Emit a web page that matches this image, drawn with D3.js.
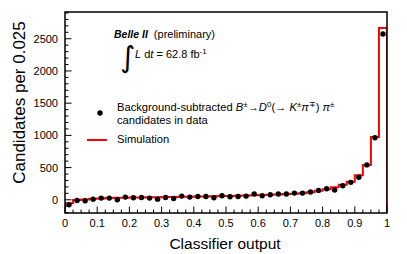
<!DOCTYPE html>
<html>
<head>
<meta charset="utf-8">
<script src="https://cdn.jsdelivr.net/npm/d3@7"></script>
<style>
  body { margin: 0; background: #fff; }
  text { font-family: "Liberation Sans", Arial, sans-serif; fill: #000; }
</style>
</head>
<body>
<div id="chart"></div>
<script>
// bin width 0.025, 40 bins from 0 to 1
var binWidth = 0.025;
var dataCounts = [-78, -10, -16, 10, 26, 26, 0, 42, 31, 36,
                  26, 10, 36, 21, 57, 42, 52, 52, 31, 62,
                  47, 52, 57, 89, 62, 78, 89, 89, 104, 104,
                  120, 146, 172, 151, 219, 271, 349, 542, 964, 2573];
var simCounts = [-55, -5, 5, 15, 22, 27, 30, 33, 35, 37,
                 39, 41, 43, 45, 47, 49, 51, 53, 55, 57,
                 60, 63, 66, 70, 74, 78, 83, 88, 95, 103,
                 118, 140, 165, 195, 232, 282, 380, 540, 975, 2667];
var xTicks = [0, 0.1, 0.2, 0.3, 0.4, 0.5, 0.6, 0.7, 0.8, 0.9, 1];
var yTicks = [0, 500, 1000, 1500, 2000, 2500];

var W = 407, H = 254;
var mLeft = 65, mRight = 387, mTop = 12, mBottom = 213;
var yMin = -205, yMax = 2915;

var svg = d3.select('#chart').append('svg')
    .attr('width', W)
    .attr('height', H);

var x = d3.scaleLinear().domain([0, 1]).range([mLeft, mRight]);
var y = d3.scaleLinear().domain([yMin, yMax]).range([mBottom, mTop]);

svg.append('clipPath').attr('id', 'clip')
  .append('rect')
    .attr('x', mLeft).attr('y', mTop)
    .attr('width', mRight - mLeft).attr('height', mBottom - mTop);

// simulation histogram
var pts = [[0, yMin]];
simCounts.forEach(function(v, i) { pts.push([i * binWidth, v]); });
pts.push([1, simCounts[simCounts.length - 1]]);
pts.push([1, yMin]);

var step = d3.line()
    .x(function(d) { return x(d[0]); })
    .y(function(d) { return y(d[1]); })
    .curve(d3.curveStepAfter);

svg.append('path')
    .attr('clip-path', 'url(#clip)')
    .attr('d', step(pts))
    .attr('fill', 'none')
    .attr('stroke', '#ff0000')
    .attr('stroke-width', 2);

// data points
svg.append('g').selectAll('circle')
    .data(dataCounts)
  .enter().append('circle')
    .attr('cx', function(d, i) { return x((i + 0.5) * binWidth); })
    .attr('cy', function(d) { return y(d); })
    .attr('r', 2.7)
    .attr('fill', '#000');

// ticks inside the frame
var gx = svg.append('g').attr('transform', 'translate(0,' + mBottom + ')');
gx.selectAll('line')
    .data(d3.range(0, 41))
  .enter().append('line')
    .attr('x1', function(d) { return x(d * binWidth); })
    .attr('x2', function(d) { return x(d * binWidth); })
    .attr('y1', 0)
    .attr('y2', function(d) { return d % 4 == 0 ? -6.5 : -3.5; })
    .attr('stroke', '#000');

gx.selectAll('text')
    .data(xTicks)
  .enter().append('text')
    .attr('x', function(d) { return x(d); })
    .attr('y', 14)
    .attr('text-anchor', 'middle')
    .style('font-size', '11px')
    .text(function(d) { return d == 0 || d == 1 ? d : d.toFixed(1); });

var gy = svg.append('g').attr('transform', 'translate(' + mLeft + ',0)');
gy.selectAll('line')
    .data(d3.range(-200, yMax, 100))
  .enter().append('line')
    .attr('y1', function(d) { return y(d); })
    .attr('y2', function(d) { return y(d); })
    .attr('x1', 0)
    .attr('x2', function(d) { return d % 500 == 0 ? 6.5 : 3.5; })
    .attr('stroke', '#000');

gy.selectAll('text')
    .data(yTicks)
  .enter().append('text')
    .attr('x', -7)
    .attr('y', function(d) { return y(d) + 4; })
    .attr('text-anchor', 'end')
    .style('font-size', '11px')
    .text(function(d) { return d; });

// frame
svg.append('rect')
    .attr('x', mLeft).attr('y', mTop)
    .attr('width', mRight - mLeft).attr('height', mBottom - mTop)
    .attr('fill', 'none')
    .attr('stroke', '#000')
    .attr('stroke-width', 1.5);

// axis titles
svg.append('text')
    .attr('x', 225).attr('y', 249)
    .attr('text-anchor', 'middle')
    .style('font-size', '15.5px')
    .text('Classifier output');

svg.append('text')
    .attr('transform', 'translate(25,102.5) rotate(-90)')
    .attr('text-anchor', 'middle')
    .style('font-size', '17px')
    .text('Candidates per 0.025');

// Belle II label
var t1 = svg.append('text').attr('x', 114).attr('y', 38).style('font-size', '11px');
t1.append('tspan').style('font-weight', 'bold').style('font-style', 'italic').style('font-size', '10.5px').text('Belle II');
t1.append('tspan').attr('dx', 6).text('(preliminary)');

svg.append('text')
    .attr('x', 120).attr('y', 67)
    .style('font-family', 'DejaVu Sans')
    .style('font-size', '29px')
    .text('\u222B');

var t2 = svg.append('text').attr('x', 135).attr('y', 58).style('font-size', '11px');
t2.append('tspan').style('font-style', 'italic').text('L');
t2.append('tspan').text(' d');
t2.append('tspan').style('font-style', 'italic').text('t');
t2.append('tspan').text(' = 62.8 fb');
t2.append('tspan').attr('dy', -4).style('font-size', '8px').text('-1');

// legend
svg.append('circle').attr('cx', 100).attr('cy', 113).attr('r', 2.7).attr('fill', '#000');
svg.append('line')
    .attr('x1', 87).attr('x2', 107).attr('y1', 140).attr('y2', 140)
    .attr('stroke', '#ff0000').attr('stroke-width', 2);

var t3 = svg.append('text').attr('x', 117).attr('y', 110.7).style('font-size', '11.2px');
t3.append('tspan').text('Background-subtracted ');
t3.append('tspan').style('font-style', 'italic').text('B');
t3.append('tspan').attr('dy', -4).style('font-size', '8px').text('\u00B1');
t3.append('tspan').attr('dy', 4).text('\u2192');
t3.append('tspan').style('font-style', 'italic').text('D');
t3.append('tspan').attr('dy', -4).style('font-size', '8px').text('0');
t3.append('tspan').attr('dy', 4).text('(\u2192 ');
t3.append('tspan').style('font-style', 'italic').text('K');
t3.append('tspan').attr('dy', -4).style('font-size', '8px').text('\u00B1');
t3.append('tspan').attr('dy', 4).style('font-style', 'italic').text('\u03C0');
t3.append('tspan').attr('dy', -4).style('font-size', '8px').text('\u2213');
t3.append('tspan').attr('dy', 4).text(') ');
t3.append('tspan').style('font-style', 'italic').text('\u03C0');
t3.append('tspan').attr('dy', -4).style('font-size', '8px').text('\u00B1');

svg.append('text').attr('x', 117).attr('y', 124.3).style('font-size', '11.2px').text('candidates in data');
svg.append('text').attr('x', 117).attr('y', 143.3).style('font-size', '11.2px').text('Simulation');
</script>
</body>
</html>
